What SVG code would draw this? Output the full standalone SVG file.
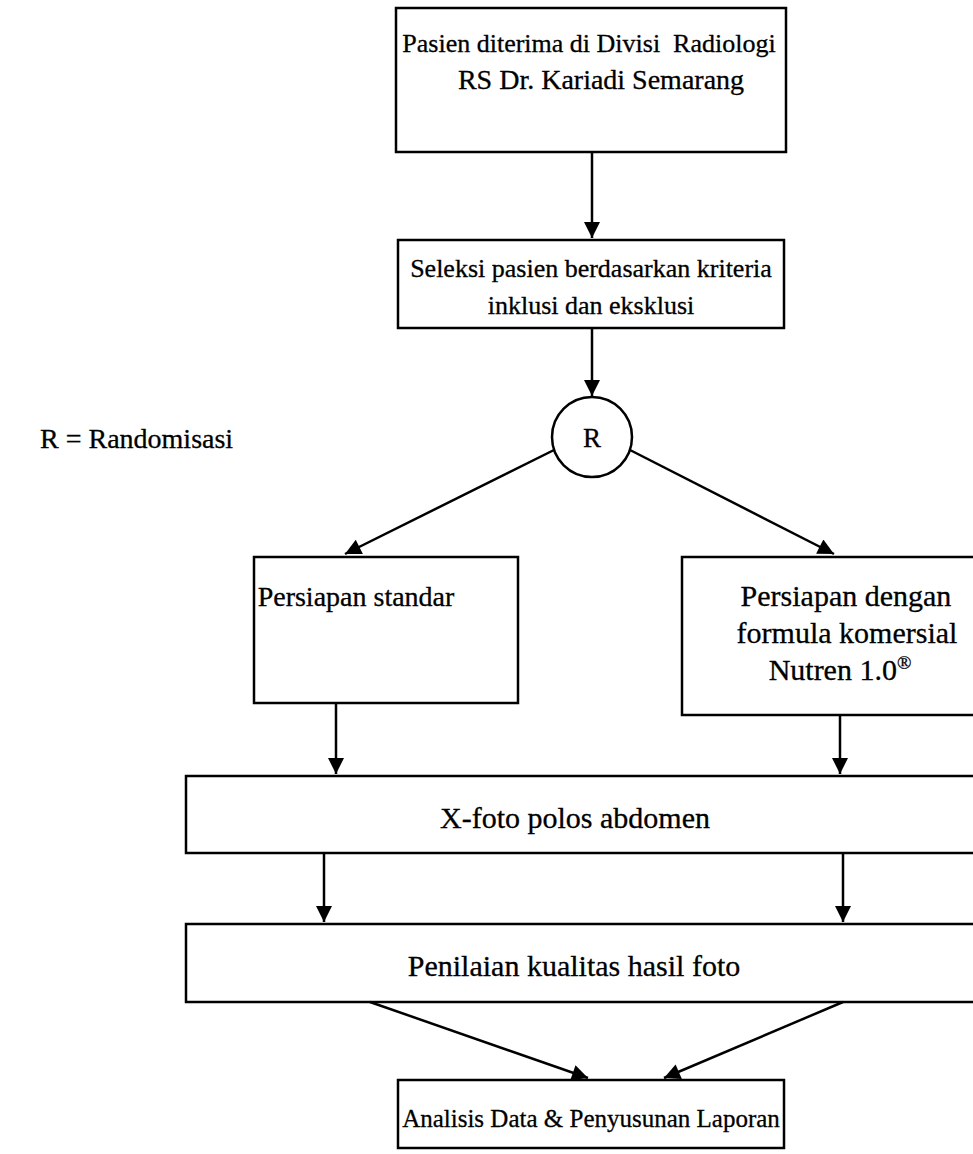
<svg xmlns="http://www.w3.org/2000/svg" width="973" height="1154" viewBox="0 0 973 1154">
<style>
.box{fill:#fff;stroke:#000;stroke-width:2.5}
.t{font-family:"Liberation Serif","Times New Roman",serif;font-size:26px;fill:#000;stroke:#000;stroke-width:0.3;text-anchor:middle}
.c{stroke:#000;stroke-width:2.5;fill:none}
</style>
<defs>
<marker id="a" viewBox="0 0 10 10" refX="10" refY="5" markerWidth="18" markerHeight="16" markerUnits="userSpaceOnUse" orient="auto">
<path d="M0,0 L10,5 L0,10 z" fill="#000"/>
</marker>
</defs>
<rect width="973" height="1154" fill="#fff"/>
<g id="n1"><rect class="box" x="396" y="8" width="390" height="144"/><text class="t" x="589" y="52" xml:space="preserve">Pasien diterima di Divisi  Radiologi</text><text class="t" x="601" y="89" style="font-size:28px">RS Dr. Kariadi Semarang</text></g>
<g id="n2"><rect class="box" x="398" y="240" width="386" height="88"/><text class="t" x="591" y="277">Seleksi pasien berdasarkan kriteria</text><text class="t" x="591" y="314">inklusi dan eksklusi</text></g>
<g id="nR"><circle class="box" cx="592" cy="437" r="40"/><text class="t" x="592" y="447" style="font-size:27px">R</text></g>
<g id="legend"><text class="t" style="text-anchor:start;font-size:28px" x="40" y="448">R = Randomisasi</text></g>
<g id="nL"><rect class="box" x="254" y="557" width="264" height="146"/><text class="t" x="356" y="606" style="font-size:28px">Persiapan standar</text></g>
<g id="nRt"><rect class="box" x="682" y="557" width="300" height="158"/><text class="t" x="846" y="606" style="font-size:30px">Persiapan dengan</text><text class="t" x="847" y="643" style="font-size:30px">formula komersial</text><text class="t" x="840" y="680" style="font-size:30px">Nutren 1.0<tspan font-size="19" dy="-11">®</tspan></text></g>
<g id="nX"><rect class="box" x="186" y="776" width="796" height="77"/><text class="t" x="575" y="828" style="font-size:30px">X-foto polos abdomen</text></g>
<g id="nP"><rect class="box" x="186" y="924" width="796" height="78"/><text class="t" x="574" y="976" style="font-size:30px">Penilaian kualitas hasil foto</text></g>
<g id="nA"><rect class="box" x="398" y="1080" width="386" height="68"/><text class="t" x="591" y="1127" style="font-size:25px">Analisis Data &amp; Penyusunan Laporan</text></g>
<g id="connectors">
<line class="c" x1="592" y1="152" x2="592" y2="238" marker-end="url(#a)"/>
<line class="c" x1="592" y1="328" x2="592" y2="396" marker-end="url(#a)"/>
<line class="c" x1="554" y1="450" x2="345" y2="554" marker-end="url(#a)"/>
<line class="c" x1="630" y1="450" x2="834" y2="554" marker-end="url(#a)"/>
<line class="c" x1="336" y1="703" x2="336" y2="774" marker-end="url(#a)"/>
<line class="c" x1="840" y1="715" x2="840" y2="774" marker-end="url(#a)"/>
<line class="c" x1="324" y1="853" x2="324" y2="922" marker-end="url(#a)"/>
<line class="c" x1="843" y1="853" x2="843" y2="922" marker-end="url(#a)"/>
<line class="c" x1="370" y1="1002" x2="588" y2="1078" marker-end="url(#a)"/>
<line class="c" x1="843" y1="1002" x2="664" y2="1078" marker-end="url(#a)"/>
</g>
</svg>
